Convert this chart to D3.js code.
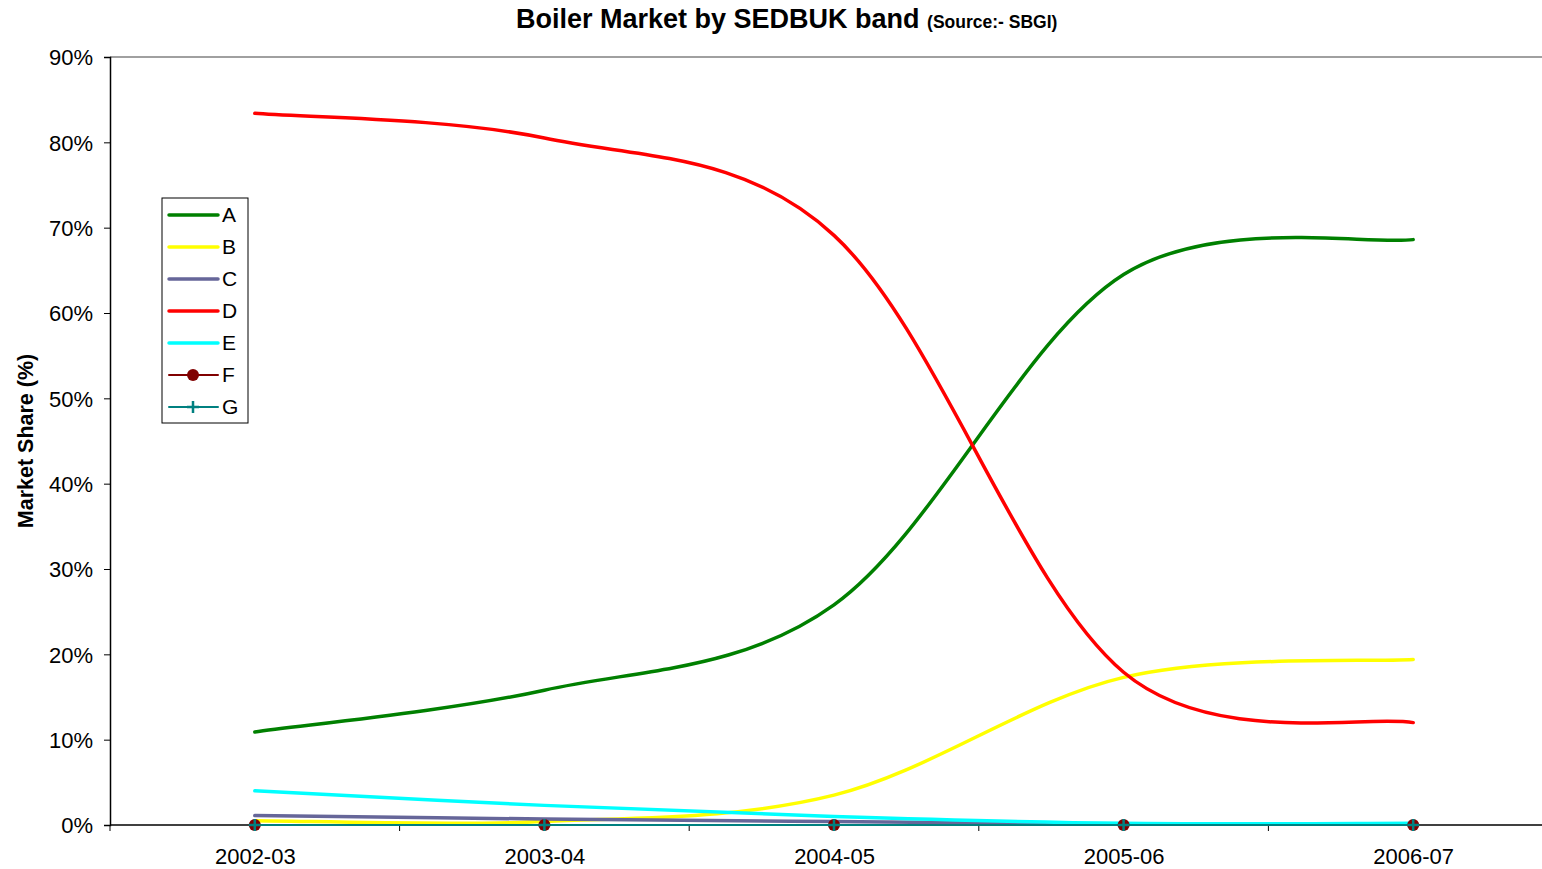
<!DOCTYPE html>
<html>
<head>
<meta charset="utf-8">
<script src="https://cdn.jsdelivr.net/npm/d3@7"></script>
<style>
  body{margin:0;background:#fff;}
  svg{display:block;font-family:"Liberation Sans",Arial,sans-serif;}
</style>
</head>
<body>
<div class="visHolder"></div>
<script>
// chart data
const years=["2002-03","2003-04","2004-05","2005-06","2006-07"];
const bandA=[10.9,15.8,25.8,64.5,68.6];
const bandB=[0.5,0.4,3.5,17.3,19.4];
const bandC=[1.1,0.7,0.4,0.1,0.1];
const bandD=[83.4,80.5,69.1,17.9,12.0];
const bandE=[4.0,2.3,1.0,0.2,0.2];
const bandF=[0,0,0,0,0];
const bandG=[0,0,0,0,0];
const yTicks=[0,10,20,30,40,50,60,70,80,90];

const series=[
  {name:"A",values:bandA,color:"#008000",width:3.5},
  {name:"B",values:bandB,color:"#ffff00",width:3.5},
  {name:"C",values:bandC,color:"#666699",width:3.5},
  {name:"D",values:bandD,color:"#ff0000",width:3.5},
  {name:"E",values:bandE,color:"#00ffff",width:3.5},
  {name:"F",values:bandF,color:"#800000",width:2,marker:"circle"},
  {name:"G",values:bandG,color:"#008080",width:2,marker:"plus"}
];

const w=1542,h=869;
const padL=110,padT=57,padB=825,padR=1558;

// spreadsheet-style smoothing, handles lightly weighted by segment length
function excelSmooth(context){
  let pts=[];
  return {
    areaStart(){},areaEnd(){},
    lineStart(){pts=[];},
    point(px,py){pts.push([+px,+py]);},
    lineEnd(){
      const n=pts.length;
      if(!n) return;
      context.moveTo(pts[0][0],pts[0][1]);
      const wt=(a,b)=>Math.pow(Math.hypot(b[0]-a[0],b[1]-a[1]),0.25);
      for(let i=0;i<n-1;i++){
        const p0=pts[Math.max(i-1,0)],p1=pts[i],p2=pts[i+1],p3=pts[Math.min(i+2,n-1)];
        const d01=wt(p0,p1),d12=wt(p1,p2),d23=wt(p2,p3);
        const f1=i===0?1/6:d12/(d01+d12)/3;
        const f2=i===n-2?1/6:d12/(d12+d23)/3;
        context.bezierCurveTo(
          p1[0]+(p2[0]-p0[0])*f1,p1[1]+(p2[1]-p0[1])*f1,
          p2[0]-(p3[0]-p1[0])*f2,p2[1]-(p3[1]-p1[1])*f2,
          p2[0],p2[1]);
      }
    }
  };
}

const svg=d3.select(".visHolder").append("svg")
  .attr("width",w).attr("height",h);

const x=d3.scalePoint().domain(years).range([padL,padR]).padding(0.5);
const y=d3.scaleLinear().domain([0,90]).range([padB,padT]);

// top border of plot area
svg.append("line")
  .attr("x1",padL).attr("x2",w).attr("y1",padT).attr("y2",padT)
  .attr("stroke","#808080").attr("stroke-width",1.5);

// y axis
const yAxis=d3.axisLeft(y).tickValues(yTicks).tickSize(6).tickFormat(d=>d+"%");
const gy=svg.append("g").attr("transform","translate("+padL+",0)").call(yAxis);
gy.select(".domain").attr("stroke","#000").attr("stroke-width",1.5);
gy.selectAll(".tick line").attr("stroke","#000");
gy.selectAll("text").attr("font-size",22).attr("fill","#000").attr("x",-17).attr("dy","0.35em");

// x axis
const xAxis=d3.axisBottom(x).tickSize(0).tickPadding(23);
const gx=svg.append("g").attr("transform","translate(0,"+padB+")").call(xAxis);
gx.select(".domain").remove();
gx.selectAll("text").attr("font-size",22).attr("fill","#000");
svg.append("line")
  .attr("x1",padL).attr("x2",w).attr("y1",padB).attr("y2",padB)
  .attr("stroke","#000").attr("stroke-width",1.5);
// boundary ticks between categories
const step=x.step();
svg.selectAll(".bt").data(d3.range(years.length+1)).enter().append("line")
  .attr("x1",i=>padL+i*step).attr("x2",i=>padL+i*step)
  .attr("y1",padB).attr("y2",padB+6)
  .attr("stroke","#000").attr("stroke-width",1);

// lines
const line=d3.line()
  .x((d,i)=>x(years[i]))
  .y(d=>y(d))
  .curve(excelSmooth);

svg.selectAll(".series").data(series).enter().append("path")
  .attr("d",s=>line(s.values))
  .attr("fill","none")
  .attr("stroke",s=>s.color)
  .attr("stroke-width",s=>s.width)
  .attr("stroke-linecap","round");

// markers
function drawMarker(g,s,cx,cy){
  if(s.marker==="circle"){
    g.append("circle").attr("cx",cx).attr("cy",cy).attr("r",6).attr("fill",s.color);
  } else if(s.marker==="plus"){
    g.append("path").attr("d","M"+(cx-6)+","+cy+"H"+(cx+6)+"M"+cx+","+(cy-6)+"V"+(cy+6))
      .attr("stroke",s.color).attr("stroke-width",2.5);
  }
}
series.filter(s=>s.marker).forEach(s=>{
  const g=svg.append("g");
  s.values.forEach((v,i)=>drawMarker(g,s,x(years[i]),y(v)));
});

// title
const title=svg.append("text").attr("x",516).attr("y",28).attr("font-weight","bold").attr("fill","#000");
title.append("tspan").attr("font-size",27).text("Boiler Market by SEDBUK band ");
title.append("tspan").attr("font-size",17.5).text("(Source:- SBGI)");

// y label
svg.append("text")
  .attr("transform","translate(33,441) rotate(-90)")
  .attr("text-anchor","middle")
  .attr("font-size",21.5).attr("font-weight","bold")
  .text("Market Share (%)");

// legend
const lg=svg.append("g").attr("transform","translate(162,198)");
lg.append("rect").attr("width",86).attr("height",225)
  .attr("fill","#fff").attr("stroke","#000").attr("stroke-width",1);
series.forEach((s,i)=>{
  const cy=17+i*32;
  lg.append("line").attr("x1",7).attr("x2",56).attr("y1",cy).attr("y2",cy)
    .attr("stroke",s.color).attr("stroke-width",s.width).attr("stroke-linecap","round");
  drawMarker(lg,s,31,cy);
  lg.append("text").attr("x",60).attr("y",cy).attr("dy","0.35em")
    .attr("font-size",21).attr("fill","#000").text(s.name);
});
</script>
</body>
</html>
